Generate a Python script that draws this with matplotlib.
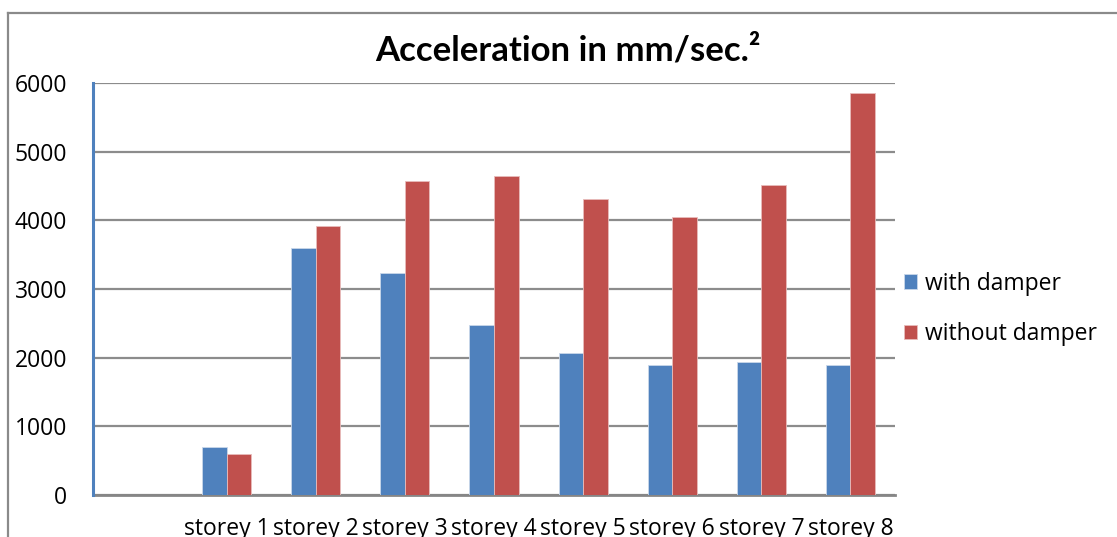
import matplotlib
matplotlib.use("Agg")
import matplotlib.pyplot as plt
from matplotlib.lines import Line2D
import numpy as np

categories = ["", "storey 1", "storey 2", "storey 3", "storey 4",
              "storey 5", "storey 6", "storey 7", "storey 8"]
with_damper = [np.nan, 700, 3600, 3240, 2470, 2070, 1900, 1930, 1900]
without_damper = [np.nan, 600, 3920, 4580, 4650, 4310, 4050, 4510, 5850]
yticks = [0, 1000, 2000, 3000, 4000, 5000, 6000]

W, H = 1117, 537
fig = plt.figure(figsize=(W / 100, H / 100), dpi=100)
ax = fig.add_axes([93 / W, 1 - 495 / H, (895 - 93) / W, (495 - 83) / H])

font = ['Open Sans', 'DejaVu Sans']
blue = '#4F81BD'
red = '#C0504D'

x = np.arange(len(categories))
bw = 0.275
ax.bar(x - bw / 2, with_damper, bw, color=blue, edgecolor='#c9d7ea', linewidth=0.6, label='with damper', zorder=3)
ax.bar(x + bw / 2, without_damper, bw, color=red, edgecolor='#e8bcbb', linewidth=0.6, label='without damper', zorder=3)

ax.set_xlim(-0.5, len(categories) - 0.5)
ax.set_ylim(0, 6000)
ax.set_yticks(yticks)
ax.set_yticklabels([str(v) for v in yticks], fontfamily=font, fontsize=16.5)
ax.set_xticks(x)
ax.set_xticklabels(categories, fontfamily=font, fontsize=16.5)
ax.tick_params(axis='both', length=0)
ax.tick_params(axis='y', pad=18.7)
ax.tick_params(axis='x', pad=15.5)

ax.grid(axis='y', color='#8c8c8c', linewidth=1.6, zorder=0)
for s in ['top', 'right']:
    ax.spines[s].set_visible(False)
ax.spines['left'].set_color(blue)
ax.spines['left'].set_linewidth(2.2)
ax.spines['bottom'].set_color('#868686')
ax.spines['bottom'].set_linewidth(2.0)
ax.spines['left'].set_zorder(4)

fig.text(568 / W, 1 - 60 / H, "Acceleration in mm/sec.²", ha='center', va='baseline',
         fontsize=25, fontweight='bold', fontfamily=['Lato', 'DejaVu Sans'])

leg = ax.legend(loc='center left', bbox_to_anchor=(0.985, 0.452), frameon=False,
                prop={'family': font, 'size': 16.5}, handlelength=0.6, handleheight=0.6,
                handletextpad=0.35, labelspacing=1.15, borderaxespad=0.5)

# outer chart frame (partially cropped)
fig.add_artist(Line2D([8 / W, 8 / W], [0, 1 - 13 / H], transform=fig.transFigure, color='#8a8a8a', linewidth=1.6))
fig.add_artist(Line2D([8 / W, 1], [1 - 13 / H, 1 - 13 / H], transform=fig.transFigure, color='#8a8a8a', linewidth=1.6))

fig.savefig("out.png", dpi=100)
